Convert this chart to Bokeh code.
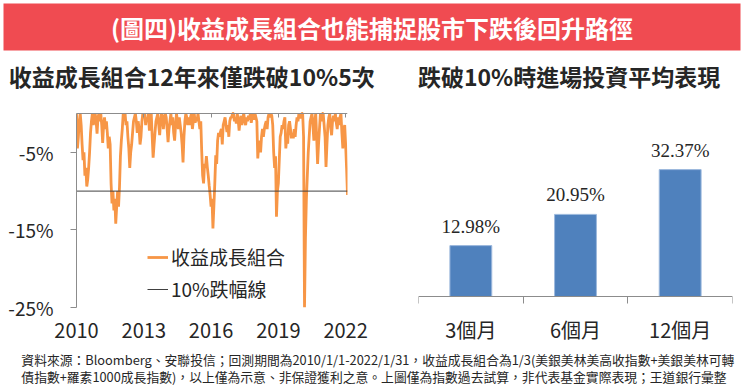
from bokeh.plotting import figure
from bokeh.layouts import column, row
from bokeh.models import (FixedTicker, PrintfTickFormatter, Legend, LegendItem, LinearAxis,
                          Range1d, ColumnDataSource, LabelSet, Label)
from bokeh.embed import file_html
from bokeh.resources import INLINE

FONT = "Noto Sans CJK TC"
RED = "#F04B51"
ORANGE = "#F79646"
BLUE = "#4F81BD"
GRAY = "#8C8C8C"
TXT = "#262626"

# ---------------- data ----------------
banner_title = "(圖四)收益成長組合也能捕捉股市下跌後回升路徑"
left_title = "收益成長組合12年來僅跌破10%5次"
right_title = "跌破10%時進場投資平均表現"
series_name = "收益成長組合"
threshold_name = "10%跌幅線"
threshold = -10
year_ticks = [2010, 2013, 2016, 2019, 2022]
y_ticks = [-25, -15, -5]
periods = ["3個月", "6個月", "12個月"]
avg_returns = [12.98, 20.95, 32.37]
footnote_1 = "資料來源：Bloomberg、安聯投信；回測期間為2010/1/1-2022/1/31，收益成長組合為1/3(美銀美林美高收指數+美銀美林可轉"
footnote_2 = "債指數+羅素1000成長指數)，以上僅為示意、非保證獲利之意。上圖僅為指數過去試算，非代表基金實際表現；王道銀行彙整"

# drawdown (%), semi-monthly readings
dd_2010 = [0, -4.5, -3, -1, 0, -1.5, -4, -6, -5, -8, -7, -9.4, -8.5, -7, -5, -2.5, -1, 0, -1.5, -0.5, 0, -1, -2.6, -0.5]
dd_2011 = [0, -1, 0, -1.5, -3.8, -1.5, -0.5, -2, -1, -2.5, -4.5, -3, -4, -9, -11.6, -10, -12.5, -11, -14.2, -12, -10, -12, -9.5, -5.5]
dd_2012 = [-3.5, -2, 0, -0.5, 0, -1.5, -1, -3, -4.5, -7, -5, -4, -2.5, -1, -0.5, 0, -1, -2.5, -1, -2, -4, -3, -1, 0]
dd_2013 = [-0.5, 0, -1.5, -0.5, -1, 0, -2.2, -1, 0, -3, -5.7, -4, -2.5, -1, -0.5, 0, -1.5, -2.8, -1, 0, -0.5, -2, -0.5, 0]
dd_2014 = [-0.5, -2, -3.7, -2, -1, 0, -1.5, -0.5, -2.5, -3.5, -1.5, 0, -1, -2, -0.5, -1.5, -2.5, -4, -6.3, -3, -1, 0, -0.5, -1.5]
dd_2015 = [-0.5, -1.5, -0.5, 0, -2, -1, 0, -1.2, -0.5, -1, 0, -1, -2, -1, -4.9, -8, -9, -6.5, -7, -5.5, -6.9, -8, -9.3, -10.5]
dd_2016 = [-12, -11, -14.8, -12, -9, -5.4, -6.5, -3.5, -2.5, -3, -2.4, -2, -4, -1.5, -1, -0.5, -1.5, -2.4, -1.5, -3, -1, -0.5, -0.5, 0]
dd_2017 = [0, -1, -0.5, -1.3, 0, -0.8, -2.2, -1, -0.3, -1.5, -0.5, 0, -1, -1.5, -0.5, -1, -0.3, -0.8, 0, -1.2, -0.5, 0, -0.8, 0]
dd_2018 = [-0.5, -1, -5.8, -4, -3.5, -5, -3, -2, -3, -2, -1.4, -1, -2, -0.5, 0, -0.5, 0, -0.3, -1.5, -5, -7, -5.5, -13.3, -10]
dd_2019 = [-9, -6, -3, -2.5, -1.5, -2, -1, -0.5, -4.5, -3, -3.9, -1.5, -1, -2, -3.2, -2.5, -3.2, -2, -3, -1.5, -0.5, -1, 0, -0.5]
dd_2020 = [-0.5, 0, 0, -3, -25, -16, -11, -8, -5, -3, -1, -0.5, 0, -1.5, -3.5, -1, 0, -3, -6.5, -4, -2, 0, -1, 0]
dd_2021 = [0, -1.5, -3, -6.9, -4, -1.5, -0.5, 0, -1.8, -2.8, -1, -0.3, -1, 0, -1.2, -2, -0.5, -1.5, -0.5, 0, -2.5, -4.5, -2, -1.5]
dd_2022 = [-4, -7, -10.5]

drawdown = (dd_2010 + dd_2011 + dd_2012 + dd_2013 + dd_2014 + dd_2015 + dd_2016 +
            dd_2017 + dd_2018 + dd_2019 + dd_2020 + dd_2021 + dd_2022)
dates = [2010 + i / 24 for i in range(len(drawdown))]

W = 744
ROW_H = 250
TOP_B = 6
BOT_B = 43


def blank(width, height, xr, yr, bg="white", **kw):
    f = figure(width=width, height=height, x_range=xr, y_range=yr, toolbar_location=None,
               output_backend="svg", x_axis_location=None, y_axis_location=None, **kw)
    f.grid.visible = False
    f.outline_line_color = None
    f.background_fill_color = bg
    f.border_fill_color = "white"
    return f


# ---------------- banner ----------------
banner = blank(W, 53, Range1d(0, 1), Range1d(0, 1), RED,
               min_border_left=3, min_border_right=4, min_border_top=3, min_border_bottom=3)
banner.add_layout(Label(x=0.5, y=0.5, text=banner_title, text_align="center", text_baseline="middle",
                        text_color="white", text_font=FONT, text_font_style="bold", text_font_size="24px"))

# ---------------- sub titles ----------------
header = blank(W, 47, Range1d(0, W), Range1d(0, 47), min_border=0)
header.add_layout(Label(x=190, y=25, text=left_title, text_align="center", text_baseline="middle",
                        text_color=TXT, text_font=FONT, text_font_style="bold", text_font_size="23px"))
header.add_layout(Label(x=571, y=25, text=right_title, text_align="center", text_baseline="middle",
                        text_color=TXT, text_font=FONT, text_font_style="bold", text_font_size="23px"))

# ---------------- left: drawdown line ----------------
# frame spans 201 px; y=0 sits 7 px below the frame top, 25 % = 194 px
left = figure(width=380, height=ROW_H, x_range=Range1d(dates[0], dates[-1]),
              y_range=Range1d(-25, 7 * 25 / 194),
              toolbar_location=None, output_backend="svg", x_axis_location=None, y_axis_location=None,
              min_border_left=76, min_border_right=33, min_border_top=TOP_B, min_border_bottom=BOT_B)
left.grid.visible = False
left.outline_line_color = None

orange = left.line(dates, drawdown, line_color=ORANGE, line_width=2.8)
thr = left.line([dates[0], dates[-1]], [threshold, threshold], line_color="#404040", line_width=1)

yax = LinearAxis(ticker=FixedTicker(ticks=y_ticks), formatter=PrintfTickFormatter(format="%d%%"),
                 bounds=(-25, 0),
                 axis_line_color=GRAY, major_tick_line_color=GRAY, major_tick_out=6, major_tick_in=0,
                 minor_tick_line_color=None, major_label_standoff=17, major_label_text_font=FONT,
                 major_label_text_font_size="19px", major_label_text_color=TXT)
left.add_layout(yax, "left")

top_ax = LinearAxis(ticker=FixedTicker(ticks=year_ticks), fixed_location=0,
                    axis_line_color=GRAY, major_tick_line_color=GRAY,
                    major_tick_in=4, major_tick_out=0, minor_tick_line_color=None,
                    major_label_text_font_size="1px", major_label_text_color=None, major_label_standoff=0)
left.add_layout(top_ax, "above")

xax = LinearAxis(ticker=FixedTicker(ticks=year_ticks), formatter=PrintfTickFormatter(format="%d"),
                 axis_line_color=None, major_tick_line_color=None, minor_tick_line_color=None,
                 major_tick_out=0, minor_tick_out=0, major_label_standoff=15, major_label_text_font=FONT,
                 major_label_text_font_size="20px", major_label_text_color=TXT)
left.add_layout(xax, "below")

legend = Legend(items=[LegendItem(label=series_name, renderers=[orange]),
                       LegendItem(label=threshold_name, renderers=[thr])],
                location=(71, 5), border_line_color=None, background_fill_alpha=0, padding=0, margin=0,
                spacing=5, glyph_width=21, glyph_height=20, label_height=20, label_standoff=3,
                label_text_font=FONT, label_text_font_size="19px", label_text_color=TXT)
left.add_layout(legend)

# ---------------- right: bars ----------------
# frame spans 201 px; y=0 sits 11 px above the frame bottom, 3.92 px per %
slot = [i + 0.5 for i in range(len(periods))]          # category centres
edges = list(range(len(periods) + 1))                   # category boundaries
src = ColumnDataSource(dict(x=slot, ret=avg_returns, label=[f"{v:.2f}%" for v in avg_returns]))
right = figure(width=364, height=ROW_H, x_range=Range1d(0, len(periods)),
               y_range=Range1d(-11 / 3.92, 190 / 3.92),
               toolbar_location=None, output_backend="svg", x_axis_location=None, y_axis_location=None,
               min_border_left=38, min_border_right=12, min_border_top=TOP_B, min_border_bottom=BOT_B)
right.grid.visible = False
right.outline_line_color = None

right.vbar(x="x", top="ret", width=0.4, source=src, fill_color=BLUE, line_color="#9DB9DD", line_width=1)
right.add_layout(LabelSet(x="x", y="ret", text="label", source=src, y_offset=13, text_align="center",
                          text_baseline="alphabetic", text_font=FONT, text_font_size="19px", text_color=TXT))

sep_ax = LinearAxis(ticker=FixedTicker(ticks=edges), fixed_location=0,
                    axis_line_color=GRAY, major_tick_line_color=GRAY, major_tick_out=7, major_tick_in=0,
                    minor_tick_line_color=None, major_label_text_font_size="1px",
                    major_label_text_color=None, major_label_standoff=0)
right.add_layout(sep_ax, "below")
cat_ax = LinearAxis(ticker=FixedTicker(ticks=slot), major_label_overrides=dict(zip(slot, periods)),
                    axis_line_color=None, major_tick_line_color=None, minor_tick_line_color=None,
                    major_tick_out=0, minor_tick_out=0, major_label_standoff=7, major_label_text_font=FONT,
                    major_label_text_font_size="20px", major_label_text_color=TXT)
right.add_layout(cat_ax, "below")

# ---------------- footnote ----------------
FH = 387 - 53 - 47 - ROW_H
foot = blank(W, FH, Range1d(0, W), Range1d(0, FH), min_border=0)
foot.add_layout(Label(x=18, y=FH - 8.5, text=footnote_1, text_align="left", text_baseline="middle",
                      text_color=TXT, text_font=FONT, text_font_size="12.8px"))
foot.add_layout(Label(x=18, y=11, text=footnote_2, text_align="left", text_baseline="middle",
                      text_color=TXT, text_font=FONT, text_font_size="12.8px"))

layout = column(banner, header, row(left, right), foot)
open("out.html", "w").write(file_html(layout, INLINE))
